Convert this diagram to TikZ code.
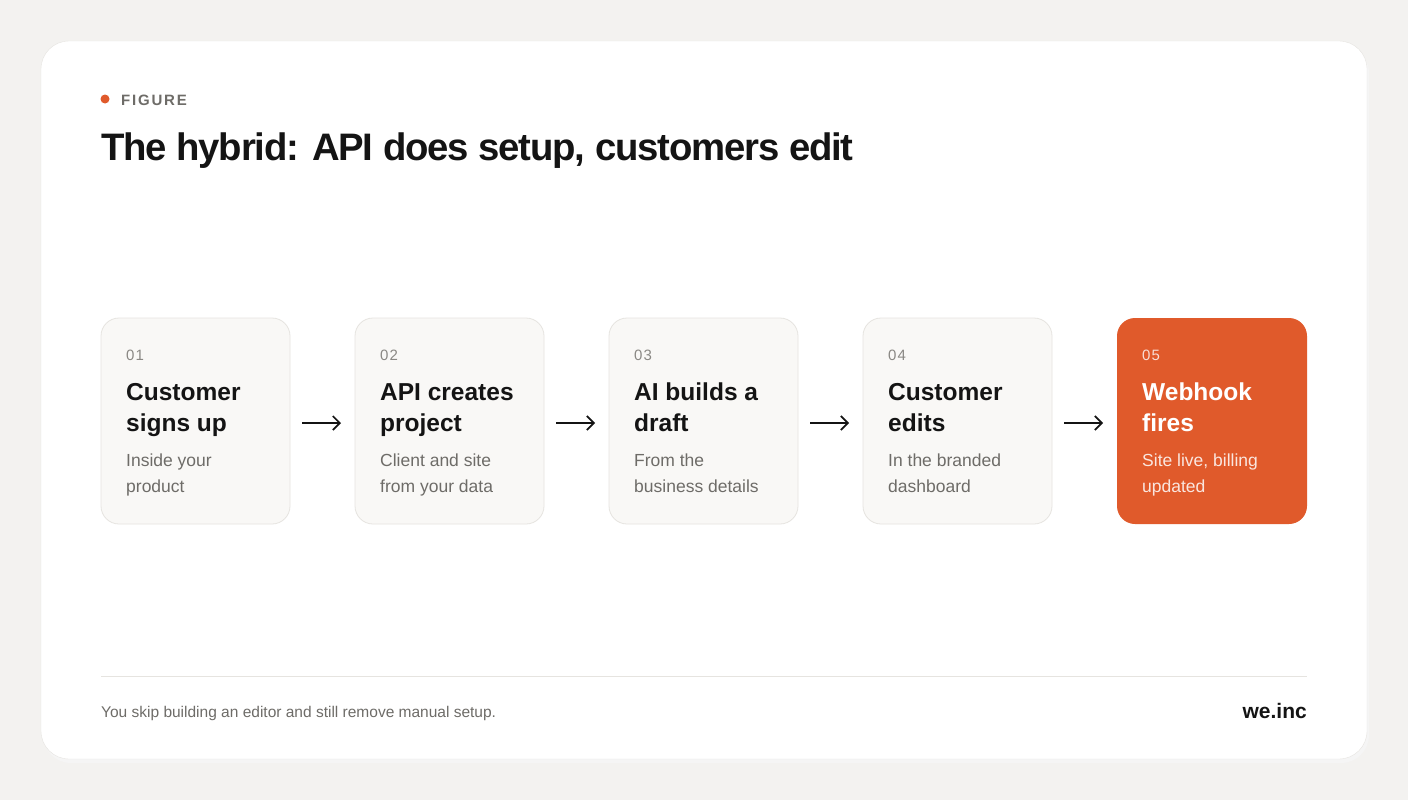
\documentclass[tikz,border=0pt]{standalone}
\usepackage{fontspec}
\usetikzlibrary{arrows.meta}
\setmainfont{Liberation Sans}
\definecolor{bg}{HTML}{F3F2F0}
\definecolor{boxbg}{HTML}{F9F8F6}
\definecolor{boxln}{HTML}{E6E4E0}
\definecolor{accent}{HTML}{E05A2B}
\definecolor{numg}{HTML}{8A8884}
\definecolor{subg}{HTML}{6E6C68}
\definecolor{ink}{HTML}{141414}
\begin{document}
\begin{tikzpicture}[x=1pt,y=-1pt,
  stepbox/.style={draw=boxln,fill=boxbg,rounded corners=18pt,line width=0.8pt},
  num/.style={anchor=base west,font=\fontsize{15}{15}\selectfont\addfontfeature{LetterSpace=8},text=numg,inner sep=0},
  ttl/.style={anchor=base west,font=\fontsize{24.5}{31}\selectfont\bfseries,text=ink,inner sep=0,align=left},
  sub/.style={anchor=base west,font=\fontsize{17.5}{26}\selectfont,text=subg,inner sep=0,align=left},
  arr/.style={-{Straight Barb[length=7pt,width=14pt]},line width=1.7pt,ink}]
\useasboundingbox (0,0) rectangle (1408,800);
\fill[bg] (0,0) rectangle (1408,800);
\fill[black!4] (43,45) [rounded corners=28pt] rectangle (1369,763);
\draw[fill=white,draw=boxln,rounded corners=28pt] (41,41) rectangle (1367,759);
\fill[accent] (105,99) circle (4.5);
\node[anchor=base west,inner sep=0,font=\fontsize{15}{15}\selectfont\bfseries\addfontfeature{LetterSpace=12},text=subg] (fig) at (121,105) {FIGURE};
\node[anchor=base west,inner sep=0,font=\fontsize{38.3}{38}\selectfont\bfseries\addfontfeature{LetterSpace=-3},text=ink] (title) at (101,160) {The hybrid: API does setup, customers edit};
\foreach \i/\n/\a/\b/\c/\d in {0/01/Customer/signs up/Inside your/product,1/02/API creates/project/Client and site/from your data,2/03/AI builds a/draft/From the/business details,3/04/Customer/edits/In the branded/dashboard}{
  \draw[stepbox] (101+254*\i,318) rectangle (290+254*\i,524);
  \node[num] (n\n) at (126+254*\i,360) {\n};
  \node[ttl] (t\n) at (126+254*\i,431) {\a\\\b};
  \node[sub] (s\n) at (126+254*\i,492) {\c\\\d};
}
\fill[accent,rounded corners=18pt] (1117,318) rectangle (1307,524);
\node[num,text=white!80!accent] (n05) at (1142,360) {05};
\node[ttl,text=white] (t05) at (1142,431) {Webhook\\fires};
\node[sub,text=white!85!accent] (s05) at (1142,492) {Site live, billing\\updated};
\foreach \i in {0,1,2,3}{
  \coordinate (a\i) at (302+254*\i,423);
  \coordinate (e\i) at (341+254*\i,423);
  \draw[arr] (a\i) -- (e\i);
}
\draw[boxln,line width=0.8pt] (101,676) -- (1307,676);
\node[anchor=base west,inner sep=0,font=\fontsize{15.5}{15}\selectfont,text=subg] (foot) at (101,717) {You skip building an editor and still remove manual setup.};
\node[anchor=base east,inner sep=0,font=\fontsize{21}{21}\selectfont\bfseries,text=ink] (logo) at (1307,718) {we.inc};
\end{tikzpicture}
\end{document}
